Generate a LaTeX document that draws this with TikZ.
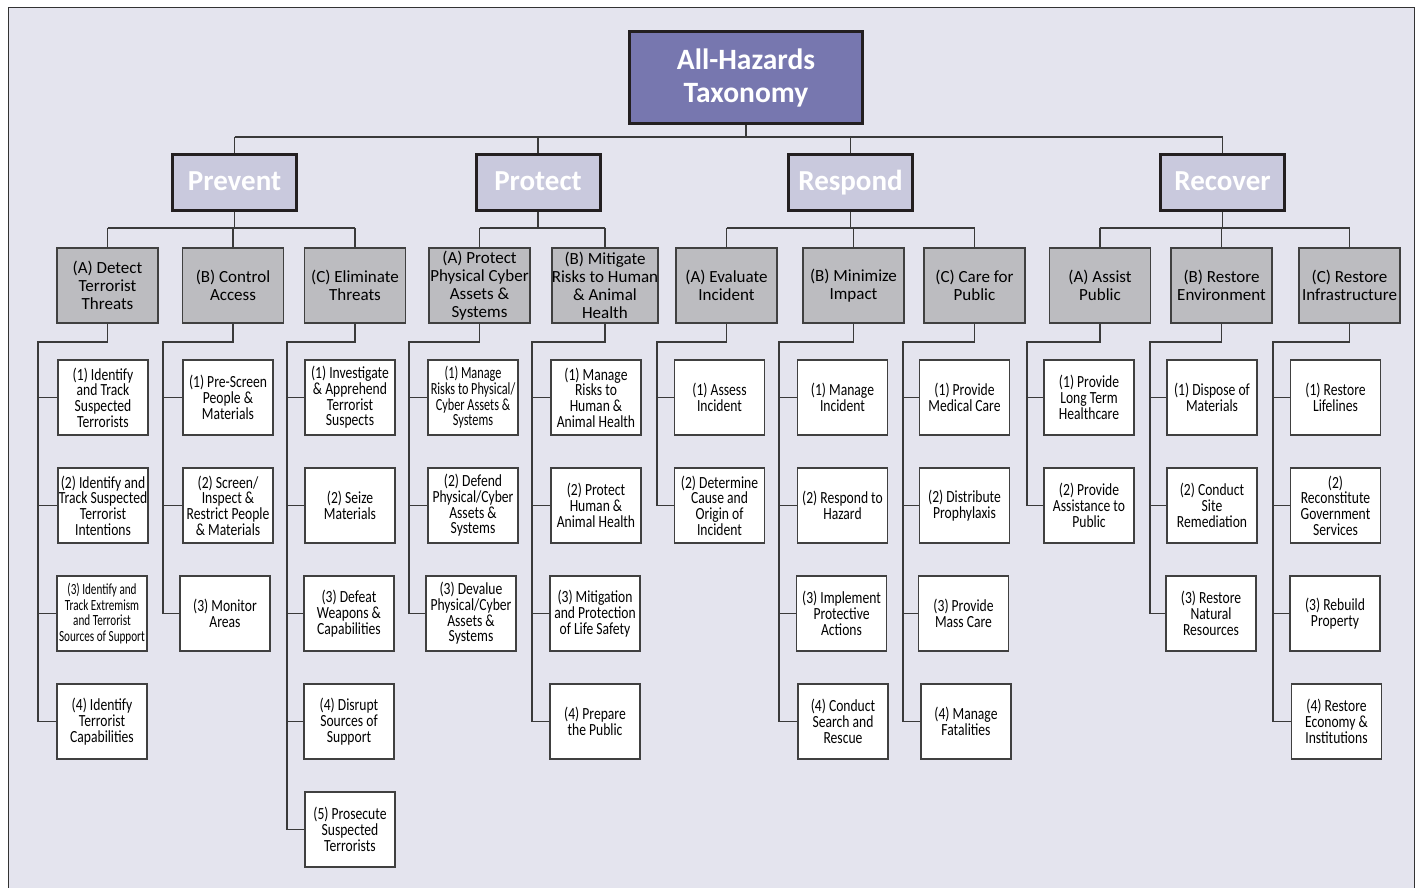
\documentclass[tikz,border=0pt]{standalone}
\usepackage{fontspec}
\setmainfont{Carlito}
\newfontfamily\condfont[FakeStretch=0.80]{Carlito}
\newfontfamily\xcondfont[FakeStretch=0.72]{Carlito}
\definecolor{bgc}{HTML}{E4E4EE}
\definecolor{rootc}{HTML}{7777AF}
\definecolor{onec}{HTML}{C9C9DD}
\definecolor{twoc}{HTML}{BCBCC0}
\definecolor{edgec}{HTML}{231F20}
\definecolor{midc}{HTML}{404040}
\definecolor{linec}{HTML}{3A3A3A}
\definecolor{framec}{HTML}{333333}
\begin{document}
\begin{tikzpicture}[x=1pt,y=-1pt,
  rootbox/.style={draw=edgec, line width=3pt, fill=rootc, text=white, font=\fontsize{29.5}{32.5}\selectfont\bfseries, align=center, minimum width=233pt, minimum height=92pt, inner sep=0pt},
  onebox/.style={draw=edgec, line width=3pt, fill=onec, text=white, font=\fontsize{29}{30}\selectfont\bfseries, minimum width=124pt, minimum height=56pt, inner sep=0pt, text height=21pt, text depth=6pt},
  twobox/.style={draw=midc, line width=1.4pt, fill=twoc, font=\fontsize{17}{18}\selectfont, align=center, minimum width=101pt, minimum height=75pt, inner sep=0pt},
  threebox/.style={draw=midc, line width=1.4pt, fill=white, font=\condfont\fontsize{17}{15.7}\selectfont, align=center, minimum width=90pt, minimum height=75pt, inner sep=0pt},
  tightbox/.style={threebox, font=\xcondfont\fontsize{17}{15.7}\selectfont},
  conn/.style={draw=linec, line width=1.3pt}]
\useasboundingbox (0,0) rectangle (1419,888);
\fill[white] (0,0) rectangle (1419,888);
\fill[bgc] (8.5,7.5) rectangle (1414.5,890);
\draw[framec, line width=1.5pt] (8.5,895) -- (8.5,7.5) -- (1414.5,7.5) -- (1414.5,895);

% root and level 1
\node[rootbox] (root) at (746,78) {All-Hazards\\Taxonomy};
\node[onebox] (prev) at (234.5,182.5) {Prevent};
\node[onebox] (prot) at (538,182.5) {Protect};
\node[onebox] (resp) at (850.5,182.5) {Respond};
\node[onebox] (reco) at (1222.5,182.5) {Recover};

% level 2
\node[twobox] (pa) at (107.5,285.5) {(A) Detect\\Terrorist\\Threats};
\node[twobox] (pb) at (233,285.5) {(B) Control\\Access};
\node[twobox] (pc) at (355,285.5) {(C) Eliminate\\Threats};
\node[twobox] (ta) at (479.5,285.5) {(A) Protect\\Physical Cyber\\Assets \&\\Systems};
\node[twobox] (tb) at (605,285.5) {(B) Mitigate\\Risks to Human\\\& Animal\\Health};
\node[twobox] (ra) at (726.5,285.5) {(A) Evaluate\\Incident};
\node[twobox] (rb) at (853.5,285.5) {(B) Minimize\\Impact};
\node[twobox] (rc) at (974.5,285.5) {(C) Care for\\Public};
\node[twobox] (ca) at (1100,285.5) {(A) Assist\\Public};
\node[twobox] (cb) at (1221.5,285.5) {(B) Restore\\Environment};
\node[twobox] (cc) at (1349.5,285.5) {(C) Restore\\Infrastructure};

% level 3 : Prevent
\node[threebox] (pa1) at (103,397.5) {(1) Identify\\and Track\\Suspected\\Terrorists};
\node[threebox] (pa2) at (103,505.5) {(2) Identify and\\Track Suspected\\Terrorist\\Intentions};
\node[tightbox, font=\xcondfont\fontsize{15.5}{15.7}\selectfont] (pa3) at (102,613.5) {(3) Identify and\\Track Extremism\\and Terrorist\\Sources of Support};
\node[threebox] (pa4) at (102,721.5) {(4) Identify\\Terrorist\\Capabilities};
\node[threebox] (pb1) at (228,397.5) {(1) Pre-Screen\\People \&\\Materials};
\node[threebox] (pb2) at (228,505.5) {(2) Screen/\\Inspect \&\\Restrict People\\\& Materials};
\node[threebox] (pb3) at (225,613.5) {(3) Monitor\\Areas};
\node[threebox] (pc1) at (350,397.5) {(1) Investigate\\\& Apprehend\\Terrorist\\Suspects};
\node[threebox] (pc2) at (350,505.5) {(2) Seize\\Materials};
\node[threebox] (pc3) at (349,613.5) {(3) Defeat\\Weapons \&\\Capabilities};
\node[threebox] (pc4) at (349,721.5) {(4) Disrupt\\Sources of\\Support};
\node[threebox] (pc5) at (350,829.5) {(5) Prosecute\\Suspected\\Terrorists};

% level 3 : Protect
\node[tightbox] (ta1) at (473,397.5) {(1) Manage\\Risks to Physical/\\Cyber Assets \&\\Systems};
\node[threebox] (ta2) at (473,505.5) {(2) Defend\\Physical/Cyber\\Assets \&\\Systems};
\node[threebox] (ta3) at (471,613.5) {(3) Devalue\\Physical/Cyber\\Assets \&\\Systems};
\node[threebox] (tb1) at (596,397.5) {(1) Manage\\Risks to\\Human \&\\Animal Health};
\node[threebox] (tb2) at (596,505.5) {(2) Protect\\Human \&\\Animal Health};
\node[threebox] (tb3) at (595,613.5) {(3) Mitigation\\and Protection\\of Life Safety};
\node[threebox] (tb4) at (595,721.5) {(4) Prepare\\the Public};

% level 3 : Respond
\node[threebox] (ra1) at (719.5,397.5) {(1) Assess\\Incident};
\node[threebox] (ra2) at (719.5,505.5) {(2) Determine\\Cause and\\Origin of\\Incident};
\node[threebox] (rb1) at (842.5,397.5) {(1) Manage\\Incident};
\node[threebox] (rb2) at (842.5,505.5) {(2) Respond to\\Hazard};
\node[threebox] (rb3) at (841.5,613.5) {(3) Implement\\Protective\\Actions};
\node[threebox] (rb4) at (843,721.5) {(4) Conduct\\Search and\\Rescue};
\node[threebox] (rc1) at (964.5,397.5) {(1) Provide\\Medical Care};
\node[threebox] (rc2) at (964.5,505.5) {(2) Distribute\\Prophylaxis};
\node[threebox] (rc3) at (963.5,613.5) {(3) Provide\\Mass Care};
\node[threebox] (rc4) at (966,721.5) {(4) Manage\\Fatalities};

% level 3 : Recover
\node[threebox] (ca1) at (1089,397.5) {(1) Provide\\Long Term\\Healthcare};
\node[threebox] (ca2) at (1089,505.5) {(2) Provide\\Assistance to\\Public};
\node[threebox] (cb1) at (1212,397.5) {(1) Dispose of\\Materials};
\node[threebox] (cb2) at (1212,505.5) {(2) Conduct\\Site\\Remediation};
\node[threebox] (cb3) at (1211,613.5) {(3) Restore\\Natural\\Resources};
\node[threebox] (cc1) at (1335.5,397.5) {(1) Restore\\Lifelines};
\node[threebox] (cc2) at (1335.5,505.5) {(2)\\Reconstitute\\Government\\Services};
\node[threebox] (cc3) at (1335,613.5) {(3) Rebuild\\Property};
\node[threebox] (cc4) at (1336.5,721.5) {(4) Restore\\Economy \&\\Institutions};

% connectors: root to level 1
\coordinate (busa) at (0,137);
\draw[conn] (root.south) -- (root.south |- busa);
\draw[conn] (prev.north |- busa) -- (reco.north |- busa);
\foreach \n in {prev,prot,resp,reco} \draw[conn] (\n.north) -- (\n.north |- busa);

% level 1 to level 2
\coordinate (busb) at (0,228);
\draw[conn] (prev.south) -- (prev.south |- busb);
\draw[conn] (prot.south) -- (prot.south |- busb);
\draw[conn] (resp.south) -- (resp.south |- busb);
\draw[conn] (reco.south) -- (reco.south |- busb);
\draw[conn] (pa.north |- busb) -- (pc.north |- busb);
\draw[conn] (ta.north |- busb) -- (tb.north |- busb);
\draw[conn] (ra.north |- busb) -- (rc.north |- busb);
\draw[conn] (ca.north |- busb) -- (cc.north |- busb);
\foreach \n in {pa,pb,pc,ta,tb,ra,rb,rc,ca,cb,cc} \draw[conn] (\n.north) -- (\n.north |- busb);

% level 2 to level 3 trunks
\coordinate (tpa) at (38,342);
\coordinate (tpb) at (163,342);
\coordinate (tpc) at (287,342);
\coordinate (tta) at (409,342);
\coordinate (ttb) at (532,342);
\coordinate (tra) at (657,342);
\coordinate (trb) at (779,342);
\coordinate (trc) at (903,342);
\coordinate (tca) at (1027,342);
\coordinate (tcb) at (1150,342);
\coordinate (tcc) at (1273,342);

\draw[conn] (pa.south) |- (tpa) |- (pa4.west);
\foreach \c in {pa1,pa2,pa3} \draw[conn] (tpa |- \c.west) -- (\c.west);
\draw[conn] (pb.south) |- (tpb) |- (pb3.west);
\foreach \c in {pb1,pb2} \draw[conn] (tpb |- \c.west) -- (\c.west);
\draw[conn] (pc.south) |- (tpc) |- (pc5.west);
\foreach \c in {pc1,pc2,pc3,pc4} \draw[conn] (tpc |- \c.west) -- (\c.west);

\draw[conn] (ta.south) |- (tta) |- (ta3.west);
\foreach \c in {ta1,ta2} \draw[conn] (tta |- \c.west) -- (\c.west);
\draw[conn] (tb.south) |- (ttb) |- (tb4.west);
\foreach \c in {tb1,tb2,tb3} \draw[conn] (ttb |- \c.west) -- (\c.west);

\draw[conn] (ra.south) |- (tra) |- (ra2.west);
\draw[conn] (tra |- ra1.west) -- (ra1.west);
\draw[conn] (rb.south) |- (trb) |- (rb4.west);
\foreach \c in {rb1,rb2,rb3} \draw[conn] (trb |- \c.west) -- (\c.west);
\draw[conn] (rc.south) |- (trc) |- (rc4.west);
\foreach \c in {rc1,rc2,rc3} \draw[conn] (trc |- \c.west) -- (\c.west);

\draw[conn] (ca.south) |- (tca) |- (ca2.west);
\draw[conn] (tca |- ca1.west) -- (ca1.west);
\draw[conn] (cb.south) |- (tcb) |- (cb3.west);
\foreach \c in {cb1,cb2} \draw[conn] (tcb |- \c.west) -- (\c.west);
\draw[conn] (cc.south) |- (tcc) |- (cc4.west);
\foreach \c in {cc1,cc2,cc3} \draw[conn] (tcc |- \c.west) -- (\c.west);
\end{tikzpicture}
\end{document}
